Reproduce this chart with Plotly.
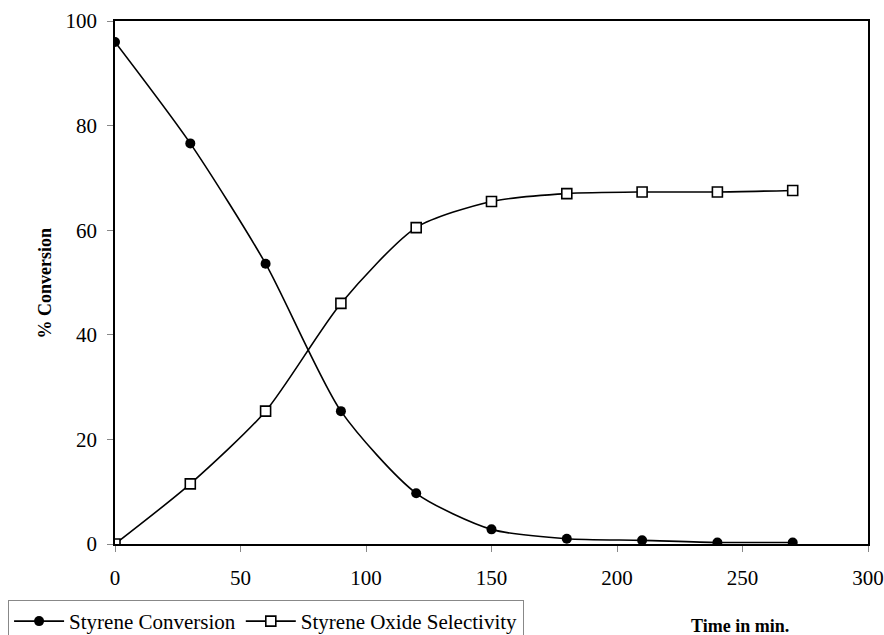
import plotly.graph_objects as go

time_min = [0, 30, 60, 90, 120, 150, 180, 210, 240, 270]
styrene_conversion = [96.0, 76.6, 53.6, 25.4, 9.7, 2.8, 1.0, 0.7, 0.3, 0.3]
oxide_selectivity = [0.0, 11.5, 25.4, 46.0, 60.5, 65.5, 67.0, 67.3, 67.3, 67.6]

x_ticks = [0, 50, 100, 150, 200, 250, 300]
y_ticks = [0, 20, 40, 60, 80, 100]

FONT = "Liberation Serif"

fig = go.Figure()
fig.add_trace(go.Scatter(
    x=time_min, y=styrene_conversion, name="Styrene Conversion",
    mode="lines+markers",
    line=dict(color="black", width=1.6, shape="spline", smoothing=0.7),
    marker=dict(symbol="circle", size=10, color="black"),
))
fig.add_trace(go.Scatter(
    x=time_min, y=oxide_selectivity, name="Styrene Oxide Selectivity",
    mode="lines+markers",
    line=dict(color="black", width=1.6, shape="spline", smoothing=0.7),
    marker=dict(symbol="square", size=10, color="white",
                line=dict(color="black", width=1.6)),
))

fig.update_layout(
    width=884, height=635,
    margin=dict(l=115, r=16, t=21, b=91, autoexpand=False),
    paper_bgcolor="white", plot_bgcolor="white",
    font=dict(family=FONT, size=21, color="black"),
    showlegend=True,
    legend=dict(
        orientation="h", x=-0.142, y=-0.107, xanchor="left", yanchor="top",
        bordercolor="#888888", borderwidth=1, bgcolor="white",
        font=dict(family=FONT, size=21, color="black"),
        tracegroupgap=0, itemwidth=50,
    ),
    xaxis=dict(
        range=[0, 300], tickvals=x_ticks, showgrid=False, zeroline=False,
        showline=True, linecolor="black", linewidth=1.5, mirror=True,
        ticks="outside", ticklen=6, tickcolor="#888888",
        tickfont=dict(family=FONT, size=21), ticklabelstandoff=8,
        automargin=False,
    ),
    yaxis=dict(
        range=[0, 100], tickvals=y_ticks, showgrid=False, zeroline=False,
        showline=True, linecolor="black", linewidth=1.5, mirror=True,
        ticks="outside", ticklen=6, tickcolor="#888888",
        tickfont=dict(family=FONT, size=21), ticklabelstandoff=6,
        automargin=False,
    ),
    annotations=[
        dict(text="<b>% Conversion</b>", x=-0.093, y=0.5, xref="paper", yref="paper",
             textangle=-90, showarrow=False, font=dict(family=FONT, size=18),
             xanchor="center", yanchor="middle"),
        dict(text="<b>Time in min.</b>", x=0.83, y=-0.157, xref="paper", yref="paper",
             showarrow=False, font=dict(family=FONT, size=18),
             xanchor="center", yanchor="middle"),
    ],
)

fig.write_html("out.html", config={"displayModeBar": False},
               post_script="document.body.style.margin='0';")
